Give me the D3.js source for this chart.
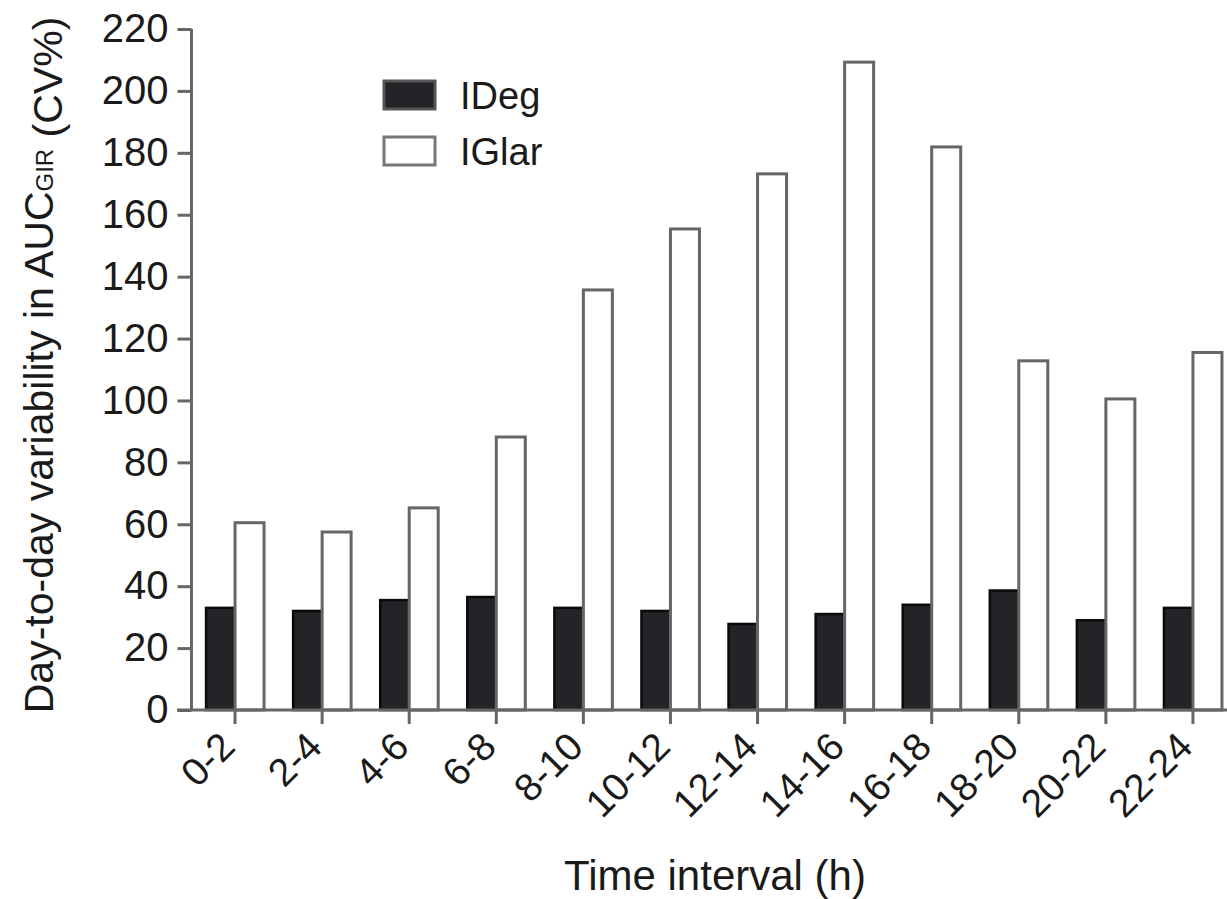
<!DOCTYPE html>
<html>
<head>
<meta charset="utf-8">
<script src="https://cdn.jsdelivr.net/npm/d3@7"></script>
<style>
  html, body { margin: 0; padding: 0; background: #fff; }
  svg { display: block; }
  text { font-family: "Liberation Sans", Arial, Helvetica, sans-serif; fill: #1a1a1a; }
</style>
</head>
<body>
<svg id="chart" width="1227" height="899"></svg>
<script>
const categories = ["0-2","2-4","4-6","6-8","8-10","10-12","12-14","14-16","16-18","18-20","20-22","22-24"];
const ideg  = [33, 32, 35.5, 36.5, 33, 32, 27.8, 31, 34, 38.6, 29, 33];
const iglar = [60.5, 57.5, 65.3, 88.2, 135.7, 155.4, 173.2, 209.3, 181.9, 112.8, 100.5, 115.5];
const yTicks = [0, 20, 40, 60, 80, 100, 120, 140, 160, 180, 200, 220];
const seriesNames = ["IDeg", "IGlar"];

const svg = d3.select("#chart");
const axisColor = "#666";

const x = d3.scaleBand().domain(categories).range([191.5, 1236.5]).padding(0);
const y = d3.scaleLinear().domain([0, 220]).range([710, 29]);
const bw = 29;

// Bars
const g = svg.append("g");
g.selectAll("rect.ideg").data(categories).join("rect")
  .attr("class", "ideg")
  .attr("x", d => x(d) + x.bandwidth() / 2 - bw)
  .attr("width", bw)
  .attr("y", (d, i) => y(ideg[i]))
  .attr("height", (d, i) => y(0) - y(ideg[i]))
  .attr("fill", "#232328")
  .attr("stroke", "#0a0a0a")
  .attr("stroke-width", 2.5);

g.selectAll("rect.iglar").data(categories).join("rect")
  .attr("class", "iglar")
  .attr("x", d => x(d) + x.bandwidth() / 2)
  .attr("width", bw)
  .attr("y", (d, i) => y(iglar[i]))
  .attr("height", (d, i) => y(0) - y(iglar[i]))
  .attr("fill", "#fff")
  .attr("stroke", axisColor)
  .attr("stroke-width", 3);

// Y axis
const yAxis = svg.append("g").attr("transform", "translate(191.5,0)")
  .call(d3.axisLeft(y).tickValues(yTicks).tickSize(14).tickPadding(9));
yAxis.select(".domain").attr("stroke", axisColor).attr("stroke-width", 3)
  .attr("d", `M0,${y(220)}V${y(0)}`);
yAxis.selectAll(".tick line").attr("stroke", axisColor).attr("stroke-width", 3);
yAxis.selectAll(".tick text").attr("font-size", 40)
  .style("font-family", '"Liberation Sans", Arial, sans-serif').attr("fill", "#1a1a1a");

// X axis
const xAxis = svg.append("g").attr("transform", `translate(0,${y(0)})`)
  .call(d3.axisBottom(x).tickSize(14).tickFormat(""));
xAxis.select(".domain").attr("stroke", axisColor).attr("stroke-width", 3)
  .attr("d", "M177,0H1227");
xAxis.selectAll(".tick line").attr("stroke", axisColor).attr("stroke-width", 3);

// X tick labels rotated
svg.append("g").selectAll("text").data(categories).join("text")
  .attr("transform", d => `translate(${x(d) + x.bandwidth() / 2 + 2},749) rotate(-45)`)
  .attr("text-anchor", "end")
  .attr("font-size", 39)
  .text(d => d);

// Axis titles
svg.append("text")
  .attr("x", 715).attr("y", 890)
  .attr("text-anchor", "middle")
  .attr("font-size", 42)
  .text("Time interval (h)");

const yt = svg.append("text")
  .attr("transform", "translate(53,365) rotate(-90)")
  .attr("text-anchor", "middle")
  .attr("font-size", 41);
yt.append("tspan").text("Day-to-day variability in AUC");
yt.append("tspan").attr("font-size", 24).text("GIR");
yt.append("tspan").attr("dy", 9).text(" (CV%)");

// Legend
const leg = svg.append("g");
const legFill = ["#232328", "#fff"];
const legStroke = ["#555", "#777"];
const legY = [95, 151];
seriesNames.forEach((name, i) => {
  leg.append("rect")
    .attr("x", 384).attr("y", legY[i] - 14).attr("width", 51).attr("height", 28)
    .attr("fill", legFill[i]).attr("stroke", legStroke[i]).attr("stroke-width", 3);
  leg.append("text")
    .attr("x", 460).attr("y", legY[i] + 14)
    .attr("font-size", 38)
    .text(name);
});
</script>
</body>
</html>
